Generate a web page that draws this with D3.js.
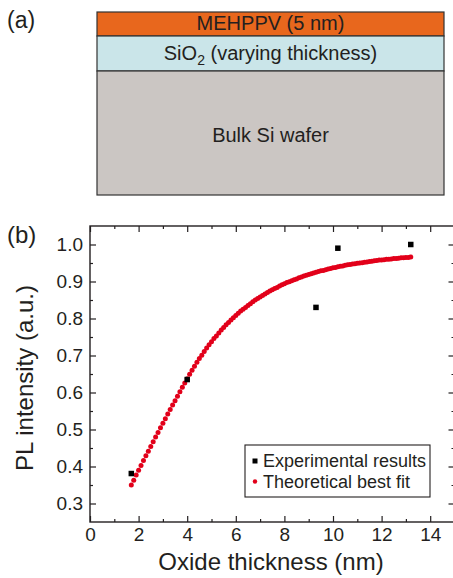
<!DOCTYPE html>
<html>
<head>
<meta charset="utf-8">
<script src="https://cdn.jsdelivr.net/npm/d3@7"></script>
<style>
body { margin: 0; background: #fff; }
svg { display: block; font-family: "Liberation Sans", Arial, sans-serif; }
</style>
</head>
<body>
<svg width="453" height="578"></svg>
<script>
// panel (a): layer stack, top to bottom
var layerNames = ["MEHPPV (5 nm)", "SiO2 (varying thickness)", "Bulk Si wafer"];
var layerColors = ["#e8671d", "#cae5e9", "#cbc6c3"];

// panel (b): experimental points
var expX = [1.7, 4.0, 9.3, 10.2, 13.2];
var expY = [0.381, 0.635, 0.830, 0.990, 1.000];

// theoretical best fit, every 0.1 nm from 1.7 to 13.2
var fitX = d3.range(17, 133).map(function(d) { return d / 10; });
var fitY = [
  0.350, 0.363, 0.377, 0.390, 0.403, 0.416, 0.429, 0.441, 0.454, 0.467,
  0.480, 0.492, 0.505, 0.517, 0.529, 0.542, 0.554, 0.566, 0.578, 0.590,
  0.602, 0.614, 0.626, 0.637,
  0.649, 0.660, 0.671, 0.682, 0.692, 0.701, 0.711, 0.720, 0.729, 0.737,
  0.746, 0.753, 0.761, 0.769, 0.776, 0.783, 0.789, 0.796, 0.802, 0.808,
  0.814, 0.820, 0.825, 0.830, 0.835, 0.840, 0.845, 0.850, 0.854, 0.858,
  0.862, 0.866, 0.870, 0.874, 0.878, 0.881, 0.884, 0.888, 0.891, 0.894,
  0.897, 0.899, 0.902, 0.905, 0.907, 0.910, 0.912, 0.915, 0.917, 0.919,
  0.921, 0.923, 0.925, 0.927, 0.929, 0.930, 0.932, 0.934, 0.935, 0.937,
  0.938, 0.940, 0.941, 0.942, 0.944, 0.945, 0.946, 0.947, 0.948, 0.949,
  0.950, 0.951, 0.952, 0.953, 0.954, 0.955, 0.956, 0.957, 0.958, 0.958,
  0.959, 0.960, 0.960, 0.961, 0.962, 0.962, 0.963, 0.964, 0.964, 0.965,
  0.965, 0.966
];

var xMajor = d3.range(0, 15, 2),
    xMinor = d3.range(1, 15, 2),
    yMajor = [0.3, 0.4, 0.5, 0.6, 0.7, 0.8, 0.9, 1.0],
    yMinor = [0.35, 0.45, 0.55, 0.65, 0.75, 0.85, 0.95];

var ink = "#231f20";
var svg = d3.select("svg");

// ---------- panel (a) ----------
svg.append("text")
    .attr("x", 7).attr("y", 28)
    .attr("font-size", 23).attr("fill", ink)
    .text("(a)");

var rowTop = [12, 36, 71],
    rowH = [24, 35, 124],
    boxL = 97, boxW = 347;

var rows = svg.append("g").selectAll("g")
    .data(layerNames)
    .enter().append("g");

rows.append("rect")
    .attr("x", boxL)
    .attr("y", function(d, i) { return rowTop[i]; })
    .attr("width", boxW)
    .attr("height", function(d, i) { return rowH[i]; })
    .attr("fill", function(d, i) { return layerColors[i]; })
    .attr("stroke", "#333")
    .attr("stroke-width", 1.2);

var labelY = [30, 60, 142];
rows.append("text")
    .attr("x", boxL + boxW / 2)
    .attr("y", function(d, i) { return labelY[i]; })
    .attr("text-anchor", "middle")
    .attr("font-size", 20)
    .attr("fill", ink)
    .each(function(d) {
      var t = d3.select(this);
      if (d.indexOf("SiO2") === 0) {
        t.append("tspan").text("SiO");
        t.append("tspan").attr("font-size", 14).attr("dy", 5).text("2");
        t.append("tspan").attr("dy", -5).text(d.slice(4));
      } else {
        t.text(d);
      }
    });

// ---------- panel (b) ----------
svg.append("text")
    .attr("x", 7).attr("y", 243)
    .attr("font-size", 24).attr("fill", ink)
    .text("(b)");

var x = d3.scaleLinear().domain([0, 15]).range([90, 454.5]),
    y = d3.scaleLinear().domain([0.25, 1.05]).range([522, 226]);

function styleAxis(g) {
  g.select(".domain").remove();
  g.selectAll("line").attr("stroke", ink).attr("stroke-width", 1.2);
  g.selectAll("text").attr("fill", ink);
  g.attr("font-family", null).attr("font-size", 19);
}

// bottom
svg.append("g")
    .attr("transform", "translate(0," + y.range()[0] + ")")
    .call(d3.axisBottom(x).tickValues(xMajor).tickSize(-6).tickPadding(6).tickFormat(d3.format("d")))
    .call(styleAxis);
svg.append("g")
    .attr("transform", "translate(0," + y.range()[0] + ")")
    .call(d3.axisBottom(x).tickValues(xMinor).tickSize(-3).tickFormat(""))
    .call(styleAxis);
// top
svg.append("g")
    .attr("transform", "translate(0," + y.range()[1] + ")")
    .call(d3.axisTop(x).tickValues(xMajor).tickSize(-6).tickFormat(""))
    .call(styleAxis);
svg.append("g")
    .attr("transform", "translate(0," + y.range()[1] + ")")
    .call(d3.axisTop(x).tickValues(xMinor).tickSize(-3).tickFormat(""))
    .call(styleAxis);
// left
svg.append("g")
    .attr("transform", "translate(" + x.range()[0] + ",0)")
    .call(d3.axisLeft(y).tickValues(yMajor).tickSize(-6).tickPadding(7).tickFormat(d3.format(".1f")))
    .call(styleAxis);
svg.append("g")
    .attr("transform", "translate(" + x.range()[0] + ",0)")
    .call(d3.axisLeft(y).tickValues(yMinor).tickSize(-3).tickFormat(""))
    .call(styleAxis);
// right
svg.append("g")
    .attr("transform", "translate(" + x.range()[1] + ",0)")
    .call(d3.axisRight(y).tickValues(yMajor).tickSize(-6).tickFormat(""))
    .call(styleAxis);
svg.append("g")
    .attr("transform", "translate(" + x.range()[1] + ",0)")
    .call(d3.axisRight(y).tickValues(yMinor).tickSize(-3).tickFormat(""))
    .call(styleAxis);

// frame
svg.append("rect")
    .attr("x", x.range()[0]).attr("y", y.range()[1])
    .attr("width", x.range()[1] - x.range()[0])
    .attr("height", y.range()[0] - y.range()[1])
    .attr("fill", "none")
    .attr("stroke", ink)
    .attr("stroke-width", 1.4);

// axis titles
svg.append("text")
    .attr("x", 271).attr("y", 570)
    .attr("text-anchor", "middle")
    .attr("font-size", 24).attr("fill", ink)
    .text("Oxide thickness (nm)");

svg.append("text")
    .attr("transform", "translate(33,378) rotate(-90)")
    .attr("text-anchor", "middle")
    .attr("font-size", 24).attr("fill", ink)
    .text("PL intensity (a.u.)");

// fit dots
svg.append("g").selectAll("circle")
    .data(fitX)
    .enter().append("circle")
      .attr("cx", function(d) { return x(d); })
      .attr("cy", function(d, i) { return y(fitY[i]); })
      .attr("r", 2.5)
      .attr("fill", "#e2001a");

// experimental squares
var sq = 5.5;
svg.append("g").selectAll("rect")
    .data(expX)
    .enter().append("rect")
      .attr("x", function(d) { return x(d) - sq / 2; })
      .attr("y", function(d, i) { return y(expY[i]) - sq / 2; })
      .attr("width", sq).attr("height", sq)
      .attr("fill", "#000");

// legend
var legend = svg.append("g");
legend.append("rect")
    .attr("x", 245).attr("y", 445)
    .attr("width", 185).attr("height", 52)
    .attr("fill", "#fff")
    .attr("stroke", ink).attr("stroke-width", 1.1);
legend.append("rect")
    .attr("x", 255 - 2.5).attr("y", 461 - 2.5)
    .attr("width", 5).attr("height", 5)
    .attr("fill", "#000");
legend.append("circle")
    .attr("cx", 255).attr("cy", 481.5).attr("r", 2.2)
    .attr("fill", "#e2001a");
legend.append("text")
    .attr("x", 263).attr("y", 467)
    .attr("font-size", 18).attr("fill", ink)
    .text("Experimental results");
legend.append("text")
    .attr("x", 263).attr("y", 487.5)
    .attr("font-size", 18).attr("fill", ink)
    .text("Theoretical best fit");
</script>
</body>
</html>
